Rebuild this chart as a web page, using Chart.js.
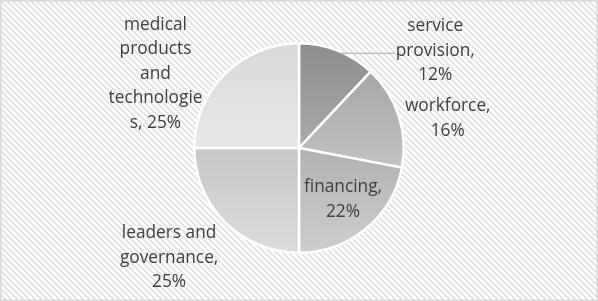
<!DOCTYPE html>
<html lang="en">
<head>
<meta charset="utf-8">
<title>Health system building blocks</title>
<script src="https://cdn.jsdelivr.net/npm/chart.js@4.4.0/dist/chart.umd.min.js"></script>
<style>
  html, body { margin: 0; padding: 0; background: #fff; }
  #wrap { width: 598px; height: 301px; position: relative; }
</style>
</head>
<body>
<div id="wrap"><canvas id="pie"></canvas></div>
<script>
// data
var categories = ['service provision', 'workforce', 'financing', 'leaders and governance', 'medical products and technologies'];
var shares = [12, 16, 22, 25, 25];
// how the labels wrap ({v} = value)
var labelLines = [
  ['service', 'provision,', '{v}%'],
  ['workforce,', '{v}%'],
  ['financing,', '{v}%'],
  ['leaders and', 'governance,', '{v}%'],
  ['medical', 'products', 'and', 'technologie', 's, {v}%']
];
var topShades = ['#8b8c8e', '#a5a6a8', '#b0b1b3', '#c6c7c9', '#d8d9db'];
var bottomShades = ['#a9aaac', '#c2c3c5', '#cdcecf', '#dcdcde', '#e7e7e9'];

// label placement, in units of the radius from the pie centre
var labelAt = [[1.30, -0.93], [1.42, -0.28], [0.42, 0.49], [-1.24, 1.05], [-1.37, -0.71]];

function sliceRange(i) {
  var total = shares.reduce(function (a, b) { return a + b; }, 0);
  var start = 0;
  for (var k = 0; k < i; k++) start += shares[k];
  return [start / total * 2 * Math.PI, (start + shares[i]) / total * 2 * Math.PI];
}

function sliceGradient(ctx) {
  var chart = ctx.chart, area = chart.chartArea;
  var i = ctx.dataIndex;
  if (!area) return topShades[i];
  var cy = (area.top + area.bottom) / 2;
  var r = Math.min(area.right - area.left, area.bottom - area.top) / 2;
  var rg = sliceRange(i);
  var ys = [cy, cy - r * Math.cos(rg[0]), cy - r * Math.cos(rg[1])];
  if (rg[0] <= 0) ys.push(cy - r);
  if (rg[0] <= Math.PI && rg[1] >= Math.PI) ys.push(cy + r);
  var y0 = Math.min.apply(null, ys), y1 = Math.max.apply(null, ys);
  var g = chart.ctx.createLinearGradient(0, y0, 0, y1);
  g.addColorStop(0, topShades[i]);
  g.addColorStop(1, bottomShades[i]);
  return g;
}

var hatchBg = {
  id: 'hatchBg',
  beforeDraw: function (chart) {
    var c = chart.ctx, w = chart.width, h = chart.height;
    var tile = document.createElement('canvas');
    tile.width = 6; tile.height = 6;
    var t = tile.getContext('2d');
    t.fillStyle = '#ffffff';
    t.fillRect(0, 0, 6, 6);
    t.strokeStyle = '#e4e4e4';
    t.lineWidth = 2;
    t.beginPath();
    t.moveTo(-1, -1); t.lineTo(7, 7);
    t.moveTo(-1, 5); t.lineTo(1, 7);
    t.moveTo(5, -1); t.lineTo(7, 1);
    t.stroke();
    c.save();
    c.fillStyle = c.createPattern(tile, 'repeat');
    c.fillRect(0, 0, w, h);
    c.strokeStyle = '#d9d9d9';
    c.lineWidth = 1.5;
    c.strokeRect(0.75, 0.75, w - 1.5, h - 1.5);
    c.restore();
  }
};

var sliceLabels = {
  id: 'sliceLabels',
  afterDatasetsDraw: function (chart) {
    var c = chart.ctx;
    var arc = chart.getDatasetMeta(0).data[0];
    var cx = arc.x, cy = arc.y, r = arc.outerRadius;
    var lh = 24.5;
    c.save();
    c.font = '17.3px "Open Sans", sans-serif';
    c.fillStyle = '#404040';
    c.textAlign = 'center';
    c.textBaseline = 'middle';
    labelLines.forEach(function (lines, i) {
      var x = cx + labelAt[i][0] * r, y = cy + labelAt[i][1] * r;
      var top = y - (lines.length - 1) * lh / 2;
      var widest = 0;
      lines.forEach(function (s, j) {
        s = s.replace('{v}', shares[i]);
        widest = Math.max(widest, c.measureText(s).width);
        c.fillText(s, x, top + j * lh);
      });
      if (i === 0) {
        // leader line from the slice rim to the label
        var ly = top + 1.15 * lh - 1;
        var dy = ly - cy;
        var sx = cx + Math.sqrt(Math.max(0, r * r - dy * dy)) - 4;
        c.strokeStyle = '#a6a6a6';
        c.lineWidth = 1.2;
        c.beginPath();
        c.moveTo(sx, ly);
        c.lineTo(x - widest / 2 - 1, ly);
        c.stroke();
      }
    });
    c.restore();
  }
};

new Chart(document.getElementById('pie'), {
  type: 'pie',
  data: {
    labels: categories,
    datasets: [{
      data: shares,
      backgroundColor: sliceGradient,
      borderColor: '#ffffff',
      borderWidth: 2.5
    }]
  },
  options: {
    responsive: true,
    maintainAspectRatio: false,
    animation: false,
    layout: { padding: { top: 42, bottom: 47, left: 0, right: 0 } },
    plugins: {
      legend: { display: false },
      tooltip: { enabled: false }
    }
  },
  plugins: [hatchBg, sliceLabels]
});
</script>
</body>
</html>
